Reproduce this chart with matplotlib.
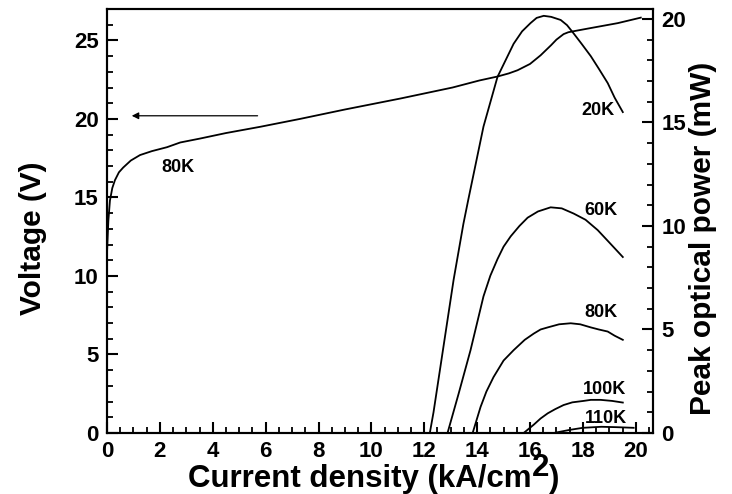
import matplotlib
matplotlib.use("Agg")
import matplotlib.pyplot as plt
from matplotlib.ticker import MultipleLocator

plt.rcParams['font.family'] = ['Liberation Sans', 'DejaVu Sans']
plt.rcParams['font.weight'] = 'bold'

# Voltage vs current density at 80K (left axis, V)
volt_j = [0.0, 0.05, 0.11, 0.2, 0.3, 0.45, 0.61, 0.9, 1.25, 1.7, 2.27, 2.77, 3.52,
          4.5, 5.8, 7.3, 9.0, 11.1, 13.07, 14.09, 14.77, 15.2, 15.53, 16.0, 16.4, 16.8,
          17.0, 17.27, 17.45, 17.7, 18.18, 19.32, 20.19]
volt_v = [11.5, 13.5, 14.8, 15.6, 16.1, 16.6, 16.9, 17.35, 17.7, 17.95, 18.2, 18.5, 18.75,
          19.1, 19.5, 20.0, 20.6, 21.3, 22.0, 22.45, 22.7, 22.9, 23.1, 23.5, 24.05, 24.7,
          25.05, 25.4, 25.52, 25.6, 25.75, 26.1, 26.45]

# Peak optical power (right axis, mW)
p20_j = [12.21, 12.35, 12.73, 13.11, 13.48, 13.67, 14.24, 14.77, 15.38, 15.7, 16.02,
         16.25, 16.52, 16.8, 17.16, 17.4, 17.65, 17.95, 18.30, 18.6, 18.94, 19.2, 19.51]
p20_p = [0.0, 1.0, 4.2, 7.4, 10.1, 11.3, 14.8, 17.2, 18.8, 19.4, 19.8,
         20.05, 20.15, 20.1, 19.95, 19.7, 19.3, 18.8, 18.2, 17.6, 16.9, 16.2, 15.5]

p60_j = [12.88, 13.30, 13.75, 14.24, 14.5, 14.77, 15.0, 15.27, 15.6, 15.91, 16.3,
         16.78, 17.2, 17.65, 18.1, 18.56, 19.0, 19.51]
p60_p = [0.0, 1.9, 4.0, 6.6, 7.6, 8.4, 9.0, 9.5, 10.0, 10.4, 10.7,
         10.9, 10.85, 10.6, 10.3, 9.8, 9.2, 8.5]

p80_j = [13.83, 14.13, 14.35, 14.62, 15.0, 15.38, 15.8, 16.14, 16.4, 16.67, 17.1,
         17.54, 17.9, 18.30, 18.6, 18.94, 19.2, 19.51]
p80_p = [0.0, 1.26, 2.0, 2.7, 3.5, 4.0, 4.5, 4.8, 5.0, 5.1, 5.25,
         5.3, 5.25, 5.1, 5.0, 4.9, 4.7, 4.5]

p100_j = [15.76, 16.14, 16.4, 16.67, 16.95, 17.27, 17.6, 18.03, 18.3, 18.67, 19.1, 19.51]
p100_p = [0.0, 0.4, 0.7, 0.95, 1.15, 1.35, 1.48, 1.55, 1.6, 1.6, 1.55, 1.47]

p110_j = [16.9, 17.5, 18.0, 18.7, 19.3, 19.92]
p110_p = [0.0, 0.15, 0.25, 0.3, 0.28, 0.25]

power_curves = [
    (p20_j, p20_p, '20K', (18.56, 15.56)),
    (p60_j, p60_p, '60K', (18.67, 10.77)),
    (p80_j, p80_p, '80K', (18.67, 5.8)),
    (p100_j, p100_p, '100K', (18.83, 2.08)),
    (p110_j, p110_p, '110K', (18.86, 0.72)),
]

fig = plt.figure(figsize=(7.32, 4.94), dpi=100)
ax = fig.add_axes([0.1462, 0.1235, 0.892 - 0.1462, 0.9818 - 0.1235])
ax2 = ax.twinx()

ax.plot(volt_j, volt_v, color='black', lw=1.3)
ax.text(2.69, 16.9, '80K', fontsize=13, fontweight='bold', ha='center', va='center')
ax.annotate('', xy=(0.83, 20.2), xytext=(5.8, 20.2),
            arrowprops=dict(arrowstyle='-|>', color='black', lw=0.9, mutation_scale=10))

for xs, ys, label, pos in power_curves:
    ax2.plot(xs, ys, color='black', lw=1.3)
    ax2.text(pos[0], pos[1], label, fontsize=13, fontweight='bold', ha='center', va='center')

ax.set_xlim(0, 20.65)
ax.set_ylim(0, 27.0)
ax2.set_ylim(0, 20.48)

ax.xaxis.set_major_locator(MultipleLocator(2))
ax.xaxis.set_minor_locator(MultipleLocator(0.5))
ax.yaxis.set_major_locator(MultipleLocator(5))
ax.yaxis.set_minor_locator(MultipleLocator(1))
ax2.yaxis.set_major_locator(MultipleLocator(5))
ax2.yaxis.set_minor_locator(MultipleLocator(1))

for a in (ax, ax2):
    for s in a.spines.values():
        s.set_linewidth(1.5)
    a.tick_params(which='major', direction='in', length=8, width=1.5, labelsize=16, pad=6)
    a.tick_params(which='minor', direction='in', length=4.5, width=1.3)
ax.tick_params(axis='x', which='both', top=False)
ax.tick_params(axis='y', which='both', right=False)
ax2.tick_params(axis='y', which='both', left=False, right=True)
for lbl in ax.get_xticklabels() + ax.get_yticklabels() + ax2.get_yticklabels():
    lbl.set_fontweight('bold')

fig.text(33 / 732, 1 - 238 / 494, 'Voltage (V)', rotation=90, fontsize=21.5,
         fontweight='bold', ha='center', va='center')
fig.text(703 / 732, 1 - 238 / 494, 'Peak optical power (mW)', rotation=90, fontsize=21.5,
         fontweight='bold', ha='center', va='center')

# x label with a full-size raised "2"
t1 = fig.text(188 / 732, 1 - 487 / 494, 'Current density (kA/cm', fontsize=22.5,
              fontweight='bold', ha='left', va='baseline')
t2 = ax.annotate('2', xy=(1, 0), xycoords=t1, xytext=(0, 8), textcoords='offset points',
                 fontsize=22.5, fontweight='bold', ha='left', va='bottom', annotation_clip=False)
ax.annotate(')', xy=(1, 0), xycoords=t2, xytext=(0, -8), textcoords='offset points',
            fontsize=22.5, fontweight='bold', ha='left', va='bottom', annotation_clip=False)

fig.savefig('out.png', dpi=100)
plt.close(fig)
